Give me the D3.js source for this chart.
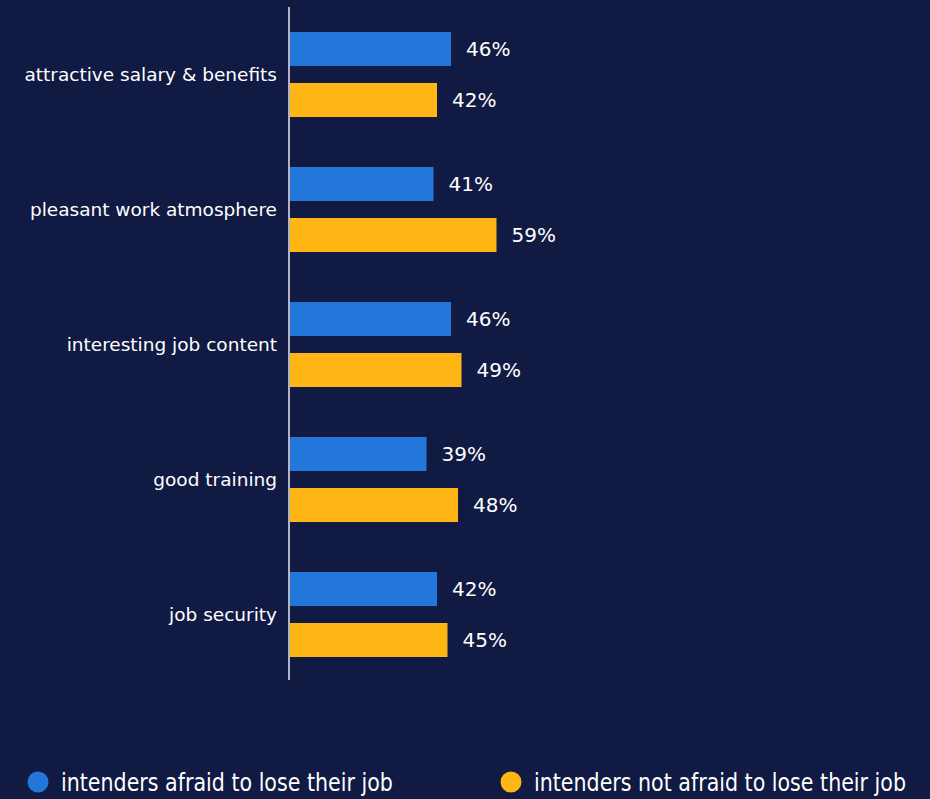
<!DOCTYPE html>
<html>
<head>
<meta charset="utf-8">
<script src="https://cdn.jsdelivr.net/npm/d3@7"></script>
<style>
  html, body { margin: 0; padding: 0; background: #101a43; }
  svg { display: block; }
  text { font-family: "DejaVu Sans", Verdana, sans-serif; fill: #ffffff; }
</style>
</head>
<body>
<svg id="chart" width="930" height="799"></svg>
<script>
// Reasons for choosing an employer, split by fear of job loss
const categories = [
  "attractive salary & benefits",
  "pleasant work atmosphere",
  "interesting job content",
  "good training",
  "job security"
];
const seriesNames = [
  "intenders afraid to lose their job",
  "intenders not afraid to lose their job"
];
const afraid = [46, 41, 46, 39, 42];
const notAfraid = [42, 59, 49, 48, 45];
const colors = ["#2377da", "#ffb514"];

const svg = d3.select("#chart");
const W = 930, H = 799;
svg.append("rect").attr("width", W).attr("height", H).attr("fill", "#101a43");

const x0 = 289;
const x = d3.scaleLinear().domain([0, 100]).range([x0, x0 + 350]);

const y = d3.scaleBand().domain(categories).range([18.5, 670.5])
  .paddingInner(50 / 135).paddingOuter(0.1);
const ySub = d3.scaleBand().domain([0, 1]).range([0, y.bandwidth()]).paddingInner(1 / 3);

const series = [afraid, notAfraid];

const groups = svg.selectAll("g.cat")
  .data(categories)
  .join("g")
  .attr("class", "cat")
  .attr("transform", d => `translate(0,${y(d)})`);

groups.each(function(cat, i) {
  const g = d3.select(this);
  series.forEach((vals, s) => {
    g.append("rect")
      .attr("x", x(0) + 1)
      .attr("y", ySub(s))
      .attr("width", x(vals[i]) - x(0))
      .attr("height", ySub.bandwidth())
      .attr("fill", colors[s]);
    g.append("text")
      .attr("x", x(vals[i]) + 16)
      .attr("y", ySub(s) + ySub.bandwidth() / 2)
      .attr("dy", "0.36em")
      .attr("font-size", 20)
      .text(vals[i] + "%");
  });
  g.append("text")
    .attr("x", 277)
    .attr("y", y.bandwidth() / 2)
    .attr("dy", "0.33em")
    .attr("text-anchor", "end")
    .attr("font-size", 18.5)
    .text(cat);
});

// vertical baseline
svg.append("line")
  .attr("x1", x0).attr("x2", x0)
  .attr("y1", 7).attr("y2", 680)
  .attr("stroke", "#e8e8f0").attr("stroke-width", 1.5);

// legend (horizontally narrowed lettering)
const legendX = [38, 511];
const legendLen = [332, 372];
const legend = svg.selectAll("g.legend")
  .data(seriesNames)
  .join("g")
  .attr("class", "legend")
  .attr("transform", (d, i) => `translate(${legendX[i]},782)`);
legend.append("circle").attr("r", 10.5).attr("fill", (d, i) => colors[i]);
legend.append("text")
  .attr("dy", "0.36em")
  .attr("font-size", 24)
  .text(d => d)
  .each(function(d, i) {
    const natural = this.getComputedTextLength();
    const sx = legendLen[i] / natural;
    d3.select(this).attr("transform", `translate(23,0) scale(${sx},1)`);
  });
</script>
</body>
</html>
